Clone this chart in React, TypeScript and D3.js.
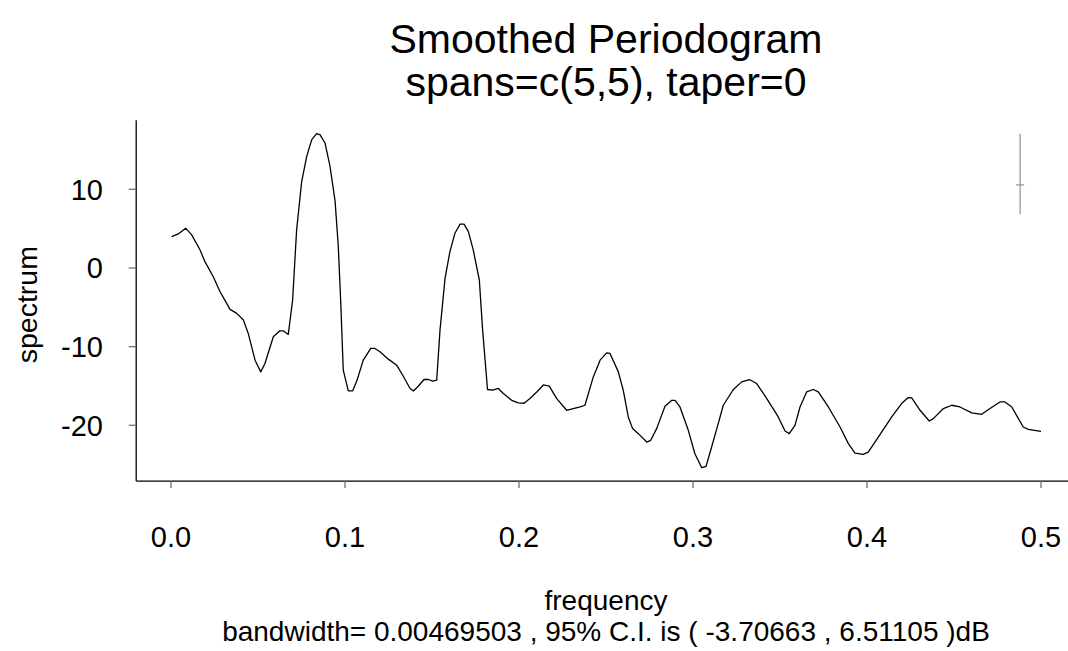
import React from "react";
import * as d3 from "d3";

const freq = [
  0.0004, 0.0042, 0.0084, 0.0119, 0.0167, 0.0195, 0.0243, 0.0282, 0.032, 0.0339,
  0.0378, 0.0416, 0.0444, 0.0483, 0.0516, 0.054, 0.0588, 0.0626, 0.0645, 0.0674,
  0.0699, 0.0722, 0.0751, 0.078, 0.0809, 0.0837, 0.0856, 0.0885, 0.0914, 0.0943,
  0.0961, 0.0975, 0.099, 0.1019, 0.1044, 0.1069, 0.1105, 0.1148, 0.1172, 0.1201,
  0.1249, 0.1297, 0.1335, 0.1374, 0.1393, 0.1421, 0.1454, 0.1479, 0.1504, 0.1527,
  0.1546, 0.1575, 0.1603, 0.1632, 0.1661, 0.1684, 0.1709, 0.1737, 0.1772, 0.1791,
  0.1819, 0.1849, 0.1881, 0.191, 0.1958, 0.1996, 0.2029, 0.2063, 0.2102, 0.214,
  0.2174, 0.2217, 0.2274, 0.2312, 0.2351, 0.2379, 0.2427, 0.2466, 0.2504, 0.2523,
  0.2571, 0.2599, 0.2628, 0.2653, 0.2686, 0.2734, 0.2757, 0.2791, 0.2839, 0.2878,
  0.2897, 0.2925, 0.2973, 0.3011, 0.305, 0.3075, 0.3107, 0.3145, 0.3174, 0.3232,
  0.328, 0.3324, 0.3366, 0.3424, 0.349, 0.3529, 0.3553, 0.3586, 0.3615, 0.3653,
  0.3691, 0.372, 0.3778, 0.3845, 0.3893, 0.3931, 0.3979, 0.4007, 0.4065, 0.4142,
  0.4199, 0.4237, 0.4257, 0.4305, 0.4358, 0.4381, 0.4439, 0.4487, 0.4534, 0.4602,
  0.4659, 0.4707, 0.4764, 0.4793, 0.4832, 0.4898, 0.4927, 0.5,
];

const spec = [
  3.99, 4.33, 5.06, 4.2, 2.29, 0.8, -1.11, -3.02, -4.5, -5.26,
  -5.77, -6.62, -8.32, -11.72, -13.21, -12.14, -8.75, -7.99, -7.99, -8.45,
  -4.08, 4.84, 10.99, 14.18, 16.31, 17.07, 16.94, 15.89, 12.9, 8.5,
  2.9, -4.08, -12.99, -15.63, -15.63, -14.27, -11.72, -10.23, -10.23, -10.66,
  -11.59, -12.36, -13.76, -15.32, -15.63, -15.03, -14.18, -14.18, -14.39, -14.27,
  -7.9, -1.31, 2.08, 4.42, 5.57, 5.57, 4.62, 2.29, -1.53, -7.9,
  -15.45, -15.54, -15.32, -15.96, -16.82, -17.16, -17.2, -16.6, -15.76, -14.87,
  -15.03, -16.6, -18.09, -17.87, -17.67, -17.45, -13.85, -11.72, -10.79, -10.87,
  -13.21, -15.54, -18.94, -20.42, -21.06, -22.13, -21.91, -20.42, -17.58, -16.82,
  -16.82, -17.67, -20.64, -23.61, -25.39, -25.22, -22.76, -19.78, -17.45, -15.45,
  -14.48, -14.18, -14.69, -16.6, -18.94, -20.73, -21.06, -20.0, -17.67, -15.76,
  -15.45, -15.76, -17.67, -20.22, -22.33, -23.53, -23.69, -23.4, -21.49, -18.94,
  -17.24, -16.47, -16.52, -18.09, -19.45, -19.15, -17.87, -17.45, -17.67, -18.43,
  -18.6, -17.87, -17.03, -17.03, -17.67, -20.22, -20.51, -20.76,
];

const xTicks = [0, 0.1, 0.2, 0.3, 0.4, 0.5];
const xTickLabels = ["0.0", "0.1", "0.2", "0.3", "0.4", "0.5"];
const yTicks = [-20, -10, 0, 10];
const yTickLabels = ["-20", "-10", "0", "10"];

const bandwidth = 0.00469503;
const ciLower = -3.70663;
const ciUpper = 6.51105;
const ciFreq = 0.488;

const titleLines = ["Smoothed Periodogram", "spans=c(5,5), taper=0"];
const xLabel = "frequency";
const yLabel = "spectrum";
const subText = "bandwidth= 0.00469503 , 95% C.I. is ( -3.70663 , 6.51105 )dB";

export default function App() {
  const W = 1068;
  const H = 651;
  const font = "'Liberation Sans', Arial, Helvetica, sans-serif";

  const xPad = (0.5 - 0) * 0.04;
  const x = d3.scaleLinear().domain([0, 0.5]).range([171, 1041]);
  const yExt = d3.extent(spec) as [number, number];
  const yPad = (yExt[1] - yExt[0]) * 0.04;
  const y = d3.scaleLinear().domain([-20, 10]).range([425.3, 189.3]);

  const left = x(0 - xPad);
  const right = x(0.5 + xPad);
  const top = y(yExt[1] + yPad);
  const bottom = y(yExt[0] - yPad);
  const cx = (left + right) / 2;

  const line = d3
    .line<number>()
    .x((_, i) => x(freq[i]))
    .y((d) => y(d));

  const peak = d3.max(spec) as number;
  const ciCenter = peak - ciUpper;

  return (
    <svg
      width={W}
      height={H}
      style={{ position: "absolute", left: 0, top: 0, background: "#fff" }}
      fontFamily={font}
    >
      <rect x={0} y={0} width={W} height={H} fill="#fff" />
      {titleLines.map((t, i) => (
        <text key={t} x={cx} y={53 + i * 43} textAnchor="middle" fontSize={41} fill="#000">
          {t}
        </text>
      ))}
      {/* axes */}
      <line x1={left} x2={left} y1={top} y2={bottom} stroke="#000" strokeWidth={1.3} />
      <line x1={left} x2={right} y1={bottom} y2={bottom} stroke="#000" strokeWidth={1.3} />
      {yTicks.map((t, i) => (
        <g key={"y" + t}>
          <line x1={left - 7.5} x2={left} y1={y(t)} y2={y(t)} stroke="#707070" strokeWidth={1.3} />
          <text x={103} y={y(t)} dy="0.36em" textAnchor="end" fontSize={29} fill="#000">
            {yTickLabels[i]}
          </text>
        </g>
      ))}
      {xTicks.map((t, i) => (
        <g key={"x" + t}>
          <line x1={x(t)} x2={x(t)} y1={bottom} y2={bottom + 7} stroke="#707070" strokeWidth={1.3} />
          <text x={x(t)} y={547} textAnchor="middle" fontSize={29} fill="#000">
            {xTickLabels[i]}
          </text>
        </g>
      ))}
      <text
        transform={`translate(36.5, ${(top + bottom) / 2 + 4}) rotate(-90)`}
        textAnchor="middle"
        fontSize={28.5}
        fill="#000"
      >
        {yLabel}
      </text>
      <text x={cx} y={610} textAnchor="middle" fontSize={28} fill="#000">
        {xLabel}
      </text>
      <text x={cx} y={641} textAnchor="middle" fontSize={28} fill="#000">
        {subText}
      </text>
      {/* spectrum */}
      <path d={line(spec) || ""} fill="none" stroke="#000" strokeWidth={1.3} strokeLinejoin="round" />
      {/* confidence interval bar */}
      <line
        x1={x(ciFreq)}
        x2={x(ciFreq)}
        y1={y(ciCenter + ciUpper)}
        y2={y(ciCenter + ciLower)}
        stroke="#999"
        strokeWidth={1.3}
      />
      <line
        x1={x(ciFreq - bandwidth / 2)}
        x2={x(ciFreq + bandwidth / 2)}
        y1={y(ciCenter)}
        y2={y(ciCenter)}
        stroke="#999"
        strokeWidth={1.3}
      />
    </svg>
  );
}
